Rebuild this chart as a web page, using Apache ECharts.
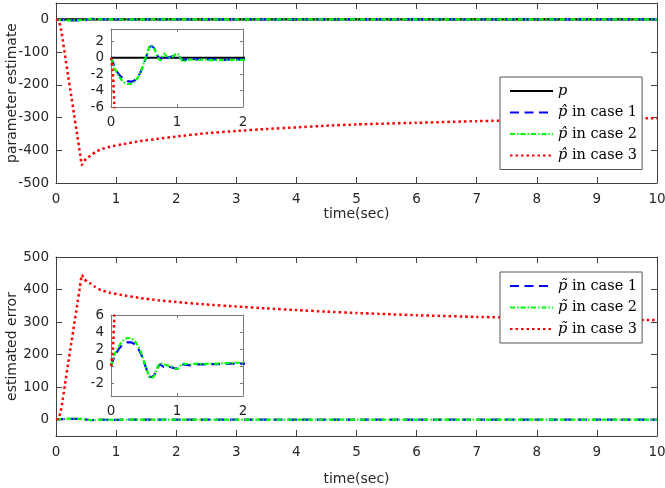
<!DOCTYPE html>
<html>
<head>
<meta charset="utf-8">
<script src="https://cdn.jsdelivr.net/npm/echarts@6/dist/echarts.min.js"></script>
<style>
html, body { margin: 0; padding: 0; background: #fff; }
#chart { width: 665px; height: 488px; }
</style>
</head>
<body>
<div id="chart"></div>
<script>
// time samples (sec)
var tBig = [0, 0.03, 0.05, 0.08, 0.1, 0.15, 0.2, 0.25, 0.3, 0.35, 0.4, 0.43, 0.47, 0.52, 0.57, 0.65, 0.75, 0.9, 1.1, 1.4, 1.7, 2.0, 2.5, 3.0, 3.5, 4.0, 4.5, 5, 6, 7, 8, 9, 10];
var tSmall = [0, 0.05, 0.1, 0.15, 0.2, 0.25, 0.3, 0.35, 0.4, 0.45, 0.5, 0.55, 0.6, 0.65, 0.7, 0.75, 0.8, 0.85, 0.9, 1.0, 1.1, 1.2, 1.3, 1.4, 1.5, 1.6, 1.7, 1.8, 1.9, 2.0, 3, 4, 5, 6, 7, 8, 9, 10];

// true parameter
var pTime = [0, 10];
var pValue = [0, 0];

// parameter estimates
var estCase1 = [0, -1.0, -1.8, -2.3, -2.6, -2.85, -2.9, -2.8, -2.4, -1.7, -0.7, 0.5, 1.4, 1.2, 0.3, -0.2, 0.4, 0.0, 0.1, 0.3, -0.3, -0.1, -0.2, -0.15, -0.2, -0.2, -0.25, -0.2, -0.2, -0.2, -0.15, -0.1, -0.1, -0.05, -0.05, -0.05, -0.05, -0.05];
var estCase2 = [0, -1.2, -2.0, -2.6, -3.0, -3.2, -3.2, -3.0, -2.5, -1.7, -0.6, 0.6, 1.5, 1.2, 0.2, -0.3, 0.5, 0.1, 0.0, 0.5, -0.45, -0.2, -0.3, -0.2, -0.3, -0.3, -0.3, -0.25, -0.3, -0.25, -0.2, -0.15, -0.1, -0.1, -0.1, -0.05, -0.05, -0.05];
var estCase3 = [0, -2, -6, -28, -48, -110, -170, -230, -290, -350, -410, -445, -432, -424, -417, -406, -397, -389, -382, -372, -365, -358, -348, -341, -335, -330, -325, -321, -316, -311, -307, -304, -302];

// estimation errors
var errCase1 = [0, 1.1, 1.8, 2.3, 2.6, 2.8, 2.8, 2.6, 2.2, 1.5, 0.5, -0.6, -1.3, -1.1, -0.3, 0.2, -0.1, 0.0, -0.1, -0.3, 0.2, 0.1, 0.2, 0.2, 0.25, 0.25, 0.3, 0.3, 0.3, 0.3, 0.2, 0.15, 0.1, 0.1, 0.05, 0.05, 0.05, 0.05];
var errCase2 = [0, 1.3, 2.1, 2.7, 3.1, 3.3, 3.3, 3.0, 2.5, 1.7, 0.6, -0.6, -1.4, -1.2, -0.2, 0.3, 0.2, 0.1, 0.0, -0.3, 0.3, 0.2, 0.3, 0.25, 0.3, 0.3, 0.35, 0.35, 0.4, 0.4, 0.2, 0.15, 0.1, 0.1, 0.1, 0.05, 0.05, 0.05];
var errCase3 = [0, 2, 6, 28, 48, 110, 170, 230, 290, 350, 410, 445, 432, 424, 419, 408, 398, 390, 383, 374, 367, 362, 354, 348, 342, 337, 332, 328, 321, 316, 312, 309, 306];

// tick labels
var mainXTicks = [0, 1, 2, 3, 4, 5, 6, 7, 8, 9, 10];
var estYTicks = [-500, -400, -300, -200, -100, 0];
var errYTicks = [0, 100, 200, 300, 400, 500];
var insetXTicks = [0, 1, 2];
var estInsetYTicks = [-6, -4, -2, 0, 2];
var errInsetYTicks = [-2, 0, 2, 4, 6];

var SANS = 'DejaVu Sans';
var SERIF = 'DejaVu Serif';
var TXT = '#262626';

function pairs(t, v) {
    return t.map(function (x, i) { return [x, v[i]]; });
}

// one axis; labeled=false gives the box side with ticks only
function makeAxis(grid, pos, min, max, ticks, labeled, inset, name, nameGap, labelMargin) {
    var vertical = pos === 'left' || pos === 'right';
    return {
        type: 'value', gridIndex: grid, position: pos, min: min, max: max,
        name: name || '', nameLocation: 'middle', nameGap: nameGap || 0, nameMoveOverlap: false,
        nameTextStyle: { fontFamily: SANS, fontSize: 14, color: TXT },
        axisLine: { show: true, onZero: false, lineStyle: { color: inset ? '#7a7a7a' : '#404040', width: 1 } },
        axisTick: { show: true, inside: true, length: inset ? 3 : 6, customValues: ticks,
            lineStyle: { color: inset ? '#7a7a7a' : '#404040' } },
        axisLabel: { show: labeled, customValues: ticks, margin: labelMargin || (vertical ? 7 : 8),
            fontFamily: SANS, fontSize: 13.5, color: TXT },
        splitLine: { show: false }
    };
}

var xAxes = [
    makeAxis(0, 'bottom', 0, 10, mainXTicks, true, false, 'time(sec)', 24, 9),
    makeAxis(0, 'top', 0, 10, mainXTicks, false, false),
    makeAxis(1, 'bottom', 0, 10, mainXTicks, true, false, 'time(sec)', 36, 9.5),
    makeAxis(1, 'top', 0, 10, mainXTicks, false, false),
    makeAxis(2, 'bottom', 0, 2, insetXTicks, true, true),
    makeAxis(2, 'top', 0, 2, insetXTicks, false, true),
    makeAxis(3, 'bottom', 0, 2, insetXTicks, true, true),
    makeAxis(3, 'top', 0, 2, insetXTicks, false, true)
];
var yAxes = [
    makeAxis(0, 'left', -500, 50, estYTicks, true, false, 'parameter estimate', 37),
    makeAxis(0, 'right', -500, 50, estYTicks, false, false),
    makeAxis(1, 'left', -50, 500, errYTicks, true, false, 'estimated error', 37),
    makeAxis(1, 'right', -50, 500, errYTicks, false, false),
    makeAxis(2, 'left', -6, 3.5, estInsetYTicks, true, true),
    makeAxis(2, 'right', -6, 3.5, estInsetYTicks, false, true),
    makeAxis(3, 'left', -3.5, 6, errInsetYTicks, true, true),
    makeAxis(3, 'right', -3.5, 6, errInsetYTicks, false, true)
];

var styles = {
    p: { color: '#000000', type: 'solid', width: 2.2 },
    c1: { color: '#0000ff', type: [9, 5.5], width: 2.2 },
    c2: { color: '#00ff00', type: [5, 2, 1.5, 2], width: 2.2 },
    c3: { color: '#ff0000', type: [2.5, 3], width: 2.5 }
};

function line(name, t, v, axisIdx, st, smooth) {
    return {
        type: 'line', name: name, xAxisIndex: axisIdx, yAxisIndex: axisIdx,
        data: pairs(t, v), showSymbol: false, symbol: 'none', smooth: smooth || false,
        clip: true, lineStyle: st, itemStyle: { color: st.color }, silent: true
    };
}

var hat = 'p\u0302', tilde = 'p\u0303';
var series = [];
[0, 4].forEach(function (ax) {
    series.push(line('p', pTime, pValue, ax, styles.p));
    series.push(line(hat + ' in case 1', tSmall, estCase1, ax, styles.c1, 0.3));
    series.push(line(hat + ' in case 2', tSmall, estCase2, ax, styles.c2, 0.3));
    series.push(line(hat + ' in case 3', tBig, estCase3, ax, styles.c3, 0.15));
});
[2, 6].forEach(function (ax) {
    series.push(line(tilde + ' in case 1', tSmall, errCase1, ax, styles.c1, 0.3));
    series.push(line(tilde + ' in case 2', tSmall, errCase2, ax, styles.c2, 0.3));
    series.push(line(tilde + ' in case 3', tBig, errCase3, ax, styles.c3, 0.15));
});

function legendFmt(name) {
    var k = name.indexOf(' ');
    if (k < 0) return '{i|' + name + '}';
    return '{i|' + name.slice(0, k) + '}{r|' + name.slice(k) + '}';
}
function makeLegend(names, top) {
    return {
        data: names, orient: 'vertical', left: 500, top: top,
        itemWidth: 43, itemHeight: 12, itemGap: 5.5,
        padding: [6, 5, 6, 9],
        backgroundColor: '#ffffff', borderColor: '#555555', borderWidth: 1, borderRadius: 0,
        selectedMode: false, formatter: legendFmt,
        itemStyle: { color: 'rgba(0,0,0,0)', borderWidth: 0, opacity: 0 },
        textStyle: {
            color: '#000', fontFamily: SERIF, fontSize: 14.5, lineHeight: 16,
            rich: {
                i: { fontFamily: SERIF, fontStyle: 'italic', fontSize: 14.5, color: '#000' },
                r: { fontFamily: SERIF, fontSize: 14.5, color: '#000' }
            }
        }
    };
}

var chart = echarts.init(document.getElementById('chart'), null, { renderer: 'canvas' });
chart.setOption({
    backgroundColor: '#ffffff',
    animation: false,
    grid: [
        { left: 56, top: 3, width: 601, height: 180, containLabel: false, outerBoundsMode: 'none' },
        { left: 56, top: 257, width: 601, height: 179, containLabel: false, outerBoundsMode: 'none' },
        { left: 111, top: 29, width: 132, height: 78, show: true, backgroundColor: '#ffffff', borderWidth: 0,
            containLabel: false, outerBoundsMode: 'none' },
        { left: 111, top: 315, width: 132, height: 81, show: true, backgroundColor: '#ffffff', borderWidth: 0,
            containLabel: false, outerBoundsMode: 'none' }
    ],
    xAxis: xAxes,
    yAxis: yAxes,
    legend: [
        makeLegend(['p', hat + ' in case 1', hat + ' in case 2', hat + ' in case 3'], 77),
        makeLegend([tilde + ' in case 1', tilde + ' in case 2', tilde + ' in case 3'], 272)
    ],
    series: series
});
</script>
</body>
</html>
